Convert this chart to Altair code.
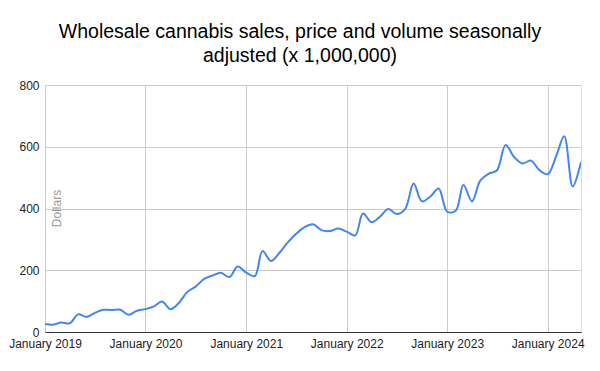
import altair as alt
import pandas as pd

months = pd.date_range("2019-01-01", "2024-05-01", freq="MS").strftime("%Y-%m-%d").tolist()
sales = [26, 24, 31, 28, 57, 49, 62, 72, 71, 72, 56, 69,
         74, 83, 99, 74, 94, 130, 147, 172, 183, 192, 178, 212,
         192, 181, 262, 230, 256, 290, 318, 340, 349, 330, 327, 335,
         325, 313, 384, 356, 373, 398, 382, 398, 481, 423, 439, 465,
         390, 393, 476, 423, 490, 513, 524, 606, 567, 546, 555, 525,
         511, 570, 634, 471, 551]
y_ticks = [0, 200, 400, 600, 800]
x_ticks = [alt.DateTime(year=y, month=1, date=1, utc=True) for y in range(2019, 2025)]

df = pd.DataFrame({"month": months, "sales": sales})

FONT = "Liberation Sans"

chart = alt.Chart(df).mark_line(
    color="#4285F4", strokeWidth=2, interpolate="catmull-rom", clip=True
).encode(
    x=alt.X("month:T",
            scale=alt.Scale(type="utc",
                            domain=[alt.DateTime(year=2019, month=1, date=1, utc=True),
                                    alt.DateTime(year=2024, month=5, date=1, utc=True)]),
            axis=alt.Axis(values=x_ticks, labelExpr="utcFormat(datum.value, '%B %Y')",
                          title=None,
                          ticks=False, tickSize=0, labelPadding=6, labelFontSize=12,
                          labelFont=FONT, labelColor="#222222", labelAngle=0,
                          domainColor="#333333", domainWidth=1,
                          gridColor="#cccccc", gridWidth=1, labelOverlap=False,
                          labelFlush=False)),
    y=alt.Y("sales:Q",
            scale=alt.Scale(domain=[0, 800], nice=False, zero=True),
            axis=alt.Axis(values=y_ticks, title="Dollars", titleFontSize=12,
                          titleFont=FONT, titleFontWeight="normal", titleColor="#999999",
                          titleAngle=270, titleAlign="center", titleBaseline="middle",
                          titleX=11, titleY=123,
                          ticks=False, tickSize=0, domain=False, labelPadding=6,
                          labelFontSize=12, labelFont=FONT, labelColor="#222222",
                          gridColor="#cccccc", gridWidth=1)),
).properties(
    width=536,
    height=247,
    title=alt.TitleParams(
        text=["Wholesale cannabis sales, price and volume seasonally",
              "adjusted (x 1,000,000)"],
        font=FONT, fontSize=19.5, fontWeight="normal", color="#000000",
        anchor="middle", lineHeight=24, dx=-13, offset=13),
    padding={"left": 37, "top": 77, "right": 11, "bottom": 31},
    autosize=alt.AutoSizeParams(type="none"),
).configure_view(stroke=None).configure(background="white")

chart.save("out.html", embed_options={"renderer": "svg", "actions": False})
